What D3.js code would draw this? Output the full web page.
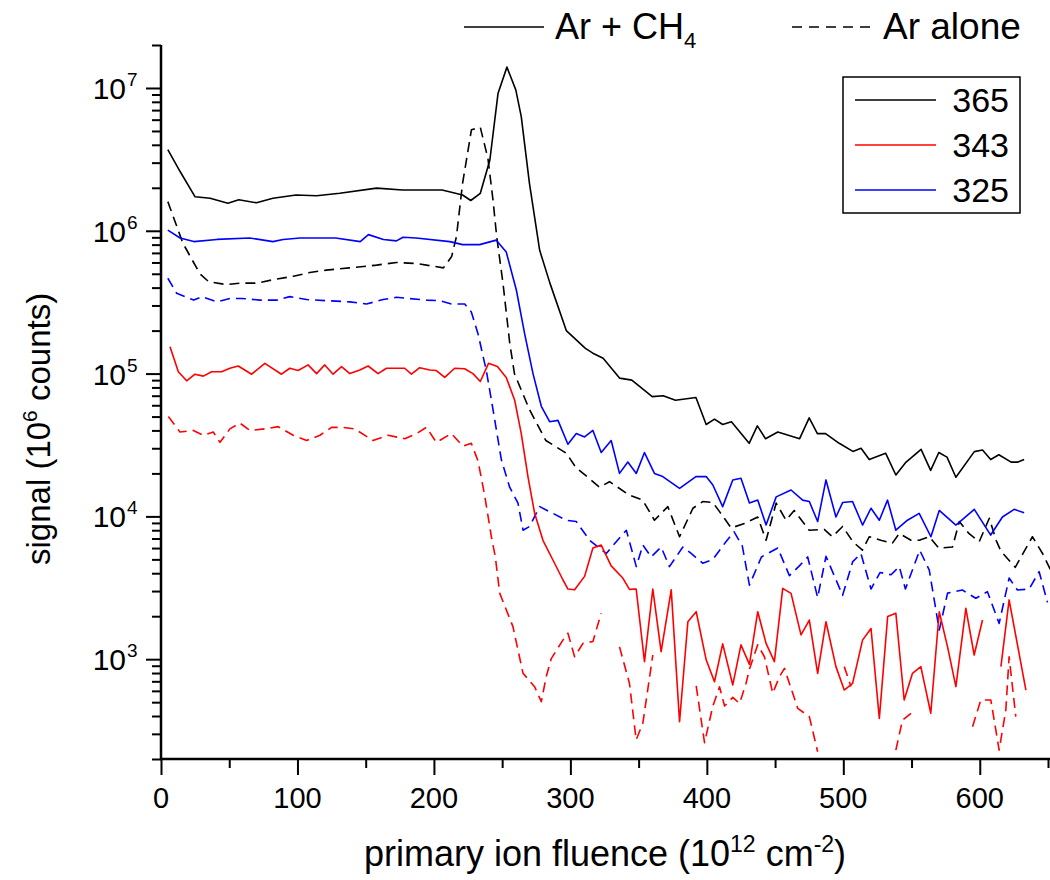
<!DOCTYPE html>
<html>
<head>
<meta charset="utf-8">
<script src="https://cdn.jsdelivr.net/npm/d3@7"></script>
<style>
  html, body { margin: 0; padding: 0; background: #fff; }
  svg { display: block; }
  text { font-family: "Liberation Sans", Arial, sans-serif; fill: #000; }
</style>
</head>
<body>
<svg id="chart" width="1050" height="880"></svg>
<script>
// ---------------- DATA ----------------
const xTicksMajor = [0, 100, 200, 300, 400, 500, 600];
const xTicksMinor = [50, 150, 250, 350, 450, 550, 650];
const yTicksMajor = [1e3, 1e4, 1e5, 1e6, 1e7];
const yTickExponents = ["3", "4", "5", "6", "7"];

const seriesNames = ["365", "343", "325"];
const seriesColors = ["#000000", "#ff0000", "#0000ff"];
const conditionNames = ["Ar + CH", "Ar alone"];

// [fluence (1e12 cm^-2), signal]; null = no value (gap)
const black365_ArCH4 = [
  [5,3.7e6],[14,2.6e6],[25,1.73e6],[36,1.69e6],[49,1.56e6],[57,1.65e6],[70,1.57e6],[82,1.69e6],
  [99,1.78e6],[114,1.76e6],[131,1.83e6],[158,1.99e6],[177,1.93e6],[206,1.93e6],[221,1.78e6],
  [227,1.63e6],[234,1.83e6],[241,3.13e6],[247,9.2e6],[253.5,1.4e7],[260,9.7e6],[264,6.3e6],
  [270,2.15e6],[277.5,7.3e5],[285,4.3e5],[297,2.0e5],[311,1.5e5],[316.5,1.39e5],[324,1.28e5],
  [336,9.3e4],[345,9.0e4],[360,6.9e4],[368,7.0e4],[377,6.5e4],[392,6.8e4],[399.5,4.4e4],
  [405.6,4.8e4],[411.6,4.4e4],[418,4.6e4],[431,3.25e4],[437,4.3e4],[443,3.5e4],[452,3.9e4],
  [468,3.5e4],[475,4.9e4],[481,3.8e4],[487,3.8e4],[497,3.25e4],[507,2.85e4],[513,3.0e4],
  [519,2.5e4],[531,2.77e4],[538.5,1.95e4],[546,2.4e4],[557,2.95e4],[564,2.1e4],[570,2.8e4],
  [576,2.6e4],[582.5,1.88e4],[596,2.84e4],[602,2.92e4],[608,2.5e4],[614,2.7e4],[623,2.4e4],
  [628,2.4e4],[632.5,2.5e4]
];
const black365_Ar = [
  [5,1.6e6],[16,8.2e5],[28.5,5.0e5],[35,4.4e5],[48,4.2e5],[58,4.3e5],[70,4.3e5],[85,4.6e5],
  [97,4.8e5],[109,5.1e5],[121,5.3e5],[138,5.5e5],[158,5.75e5],[172.5,6.0e5],[187,5.9e5],
  [207,5.5e5],[213,6.6e5],[216.5,9.1e5],[221,2.15e6],[227.5,5.1e6],[234,5.3e6],[239.6,3.2e6],
  [243.3,1.64e6],[246,9.1e5],[250.6,4.3e5],[255.5,1.65e5],[259,1.0e5],[270,5.6e4],[282,3.4e4],
  [297,2.77e4],[304,2.2e4],[311.6,1.92e4],[321.4,1.6e4],[328.7,1.75e4],[343,1.41e4],[353,1.3e4],
  [361.6,9.4e3],[371.4,1.17e4],[380,7.2e3],[389.8,1.14e4],[397,1.27e4],[404.4,1.25e4],
  [409.3,1.08e4],[417.8,8.3e3],[427.5,8.9e3],[437.3,9.9e3],[443.4,6.8e3],[450.8,1.24e4],
  [458,9.4e3],[464,1.1e4],[475,8.0e3],[486,8.1e3],[492,7.2e3],[499.5,8.5e3],[507,6.65e3],
  [514,5.8e3],[519,7.2e3],[527.5,6.8e3],[536,6.5e3],[541,7.6e3],[549.6,6.8e3],[555.7,6.8e3],
  [563,7.2e3],[570,6.0e3],[580,6.1e3],[585,9.2e3],[592,7.6e3],[599.6,6.65e3],[607,9.7e3],
  [612,6.8e3],[615.5,5.7e3],[626,4.4e3],[638.6,7.2e3],[646,5.5e3],[652,4.2e3]
];
const blue325_ArCH4 = [
  [5,1.01e6],[14,8.9e5],[24,8.4e5],[41,8.7e5],[65,8.9e5],[82,8.4e5],[89.5,8.7e5],[102,8.9e5],
  [128,8.9e5],[146,8.4e5],[152,9.4e5],[163,8.7e5],[172.5,8.5e5],[177.4,9.0e5],[187,8.9e5],
  [211.6,8.4e5],[221,8.0e5],[233.5,8.0e5],[245.7,8.6e5],[253,7.1e5],[260.4,3.85e5],[266.5,1.9e5],
  [272.6,1.0e5],[278.7,5.9e4],[284.8,4.6e4],[290.9,4.7e4],[298.2,3.2e4],[304.3,3.8e4],
  [310.4,3.6e4],[316.5,4.0e4],[322.6,2.8e4],[329.9,3.4e4],[336,2.0e4],[342.1,2.4e4],[348.3,2.0e4],
  [354.3,2.8e4],[361.6,2.0e4],[367.7,1.9e4],[380,1.57e4],[392,1.9e4],[399.5,1.9e4],[404.4,1.66e4],
  [411.6,1.17e4],[419,1.8e4],[425,1.85e4],[431.2,1.24e4],[437.3,1.3e4],[443.4,8.7e3],
  [450.8,1.37e4],[461.7,1.53e4],[470.2,1.3e4],[475.1,1.27e4],[481.2,9.2e3],[487.3,1.8e4],
  [494.6,9.9e3],[499.5,1.25e4],[506.8,1.27e4],[514.1,8.7e3],[520.3,1.14e4],[526.4,9.4e3],
  [532.4,1.3e4],[538.5,8.0e3],[547,9.4e3],[555.6,1.05e4],[564.2,7.2e3],[570.3,1.1e4],
  [582.5,8.7e3],[596,1.12e4],[608,7.4e3],[616.6,9.9e3],[625.2,1.12e4],[632.5,1.06e4]
];
const blue325_Ar = [
  [5,4.65e5],[11.5,3.65e5],[24,3.27e5],[30,3.46e5],[41,3.18e5],[50.5,3.36e5],[59,3.36e5],
  [72.5,3.27e5],[85,3.27e5],[94.4,3.46e5],[106.7,3.3e5],[121.3,3.24e5],[138.4,3.18e5],
  [150.6,3.07e5],[162.7,3.3e5],[172.5,3.42e5],[194.5,3.27e5],[204.3,3.24e5],[212.8,3.07e5],
  [222.6,3.07e5],[227.4,2.7e5],[232.3,1.9e5],[238.4,1.05e5],[243.3,5.6e4],[249.4,2.5e4],
  [255.5,1.6e4],[261.6,1.24e4],[265.3,8.0e3],[270.1,8.5e3],[277.5,1.17e4],[287.2,1.05e4],
  [297,9.4e3],[304.3,9.2e3],[314.1,6.8e3],[326.3,5.5e3],[333.6,6.65e3],[341,8.0e3],[348.3,4.45e3],
  [353.1,6.3e3],[359.2,5.2e3],[366.5,6.1e3],[372.6,4.45e3],[382.4,6.1e3],[388.5,5.5e3],
  [397,4.7e3],[404.4,5.0e3],[414,6.65e3],[420,7.8e3],[426,6.2e3],[431.2,3.3e3],[440,5.2e3],
  [452,6.0e3],[460.5,3.85e3],[467.8,4.5e3],[473.9,5.2e3],[481.2,2.7e3],[487.3,5.25e3],
  [499.5,2.8e3],[506.8,4.8e3],[512.9,5.5e3],[520.3,3.1e3],[527,4.05e3],[535,3.9e3],[541,4.45e3],
  [545.5,3.1e3],[556,5.8e3],[563,4.2e3],[570.3,1.6e3],[576.4,2.9e3],[587.3,3.05e3],
  [597.1,2.67e3],[605.6,2.97e3],[614.2,1.78e3],[621.5,3.7e3],[627.6,3.05e3],[636.2,3.1e3],
  [643.5,4.1e3],[649.6,2.5e3]
];
const red343_ArCH4 = [
  [6.6,1.54e5],[12.7,1.03e5],[18.8,8.9e4],[24.9,9.9e4],[31,9.6e4],[37.1,1.03e5],[44.4,1.03e5],
  [50.5,1.09e5],[56.6,1.13e5],[66.4,9.9e4],[76.1,1.18e5],[88.3,9.9e4],[94.4,1.09e5],
  [100.5,1.05e5],[107.8,1.15e5],[114,1.0e5],[120,1.15e5],[126.1,9.9e4],[132.3,1.12e5],
  [138.4,1.0e5],[145.7,1.06e5],[151.8,1.13e5],[159.1,1.0e5],[165.2,1.09e5],[172.5,1.09e5],
  [178.6,1.09e5],[183.5,9.9e4],[189.6,1.1e5],[197,1.06e5],[201.8,1.05e5],[207.9,9.4e4],
  [215.2,1.09e5],[222.5,1.08e5],[228.6,1.0e5],[234,8.8e4],[240,1.18e5],[246.5,1.12e5],
  [253,9.4e4],[259.2,6.5e4],[264,3.8e4],[268.9,1.9e4],[273.8,1.05e4],[279.9,6.8e3],
  [287.2,4.95e3],[294.5,3.6e3],[298.2,3.1e3],[303.1,3.06e3],[310.4,3.8e3],[316.5,6.0e3],
  [322.6,6.3e3],[329.9,4.5e3],[338.4,3.7e3],[343.3,3.08e3],[348.2,3.1e3],[354.3,962],
  [360.4,3.1e3],[366.5,1.13e3],[373.9,3.06e3],[380,365],[386.1,1.83e3],[392.2,2.15e3],
  [399.5,990],[405.6,695],[411.6,1.28e3],[419,660],[425,1.26e3],[431.2,920],[437.3,2.15e3],
  [443.4,1.29e3],[449.5,962],[455.6,3.13e3],[461.7,2.89e3],[469,1.48e3],[475.1,1.88e3],
  [481.2,796],[487.3,1.83e3],[494.6,887],[500.7,608],[506.8,677],[514.1,1.36e3],[520.3,1.64e3],
  [526.4,385],[532.5,1.99e3],[538.5,2.1e3],[544.6,518],[550.7,796],[556.8,887],[564.1,418],
  [570.3,2.15e3],[576.4,1.22e3],[582.5,643],[589.8,2.27e3],[595.9,1.07e3],[602,1.88e3],
  [608,null],[615.5,887],[621.5,2.6e3],[633.8,608]
];
const red343_Ar = [
  [5.4,5.0e4],[13.9,3.9e4],[23.7,4.0e4],[31,3.7e4],[38.3,3.9e4],[43.2,3.3e4],[50.5,4.1e4],
  [57.8,4.5e4],[65.2,4.0e4],[76.1,4.1e4],[85.9,4.25e4],[96.9,3.7e4],[106.7,3.4e4],[116.5,3.7e4],
  [125,4.2e4],[133.5,4.2e4],[142,4.1e4],[155.4,3.4e4],[166.4,3.7e4],[178.6,3.5e4],[187.2,3.8e4],
  [194.5,4.2e4],[201.8,3.3e4],[212.8,3.8e4],[221.3,3.1e4],[227.4,3.25e4],[232.3,2.45e4],
  [237.2,1.4e4],[242.1,7.2e3],[245,5.2e3],[248.2,2.9e3],[257.9,1.69e3],[265.3,796],[273.8,641],
  [278.7,504],[282.3,755],[286,1.01e3],[294.5,1.36e3],[298.2,1.52e3],[303.1,1.04e3],
  [309.2,1.29e3],[316.5,1.33e3],[322.6,2.1e3],[329,null],[336,1.22e3],[343.3,677],[348.2,272],
  [353.1,356],[360.4,1.07e3],[376,null],[392.2,650],[398.3,260],[404.4,470],[409.3,640],
  [413,470],[419,540],[424,490],[428.7,677],[431.2,850],[437.3,1.26e3],[442.2,1.04e3],
  [448.3,577],[453.2,753],[456.9,863],[460.5,677],[466.6,453],[475.1,396],[481.2,225],
  [490,null],[500.7,887],[505.6,643],[520,null],[538.5,231],[543.4,375],[549.6,418],[570,null],
  [594.7,337],[600.8,518],[608.1,518],[614.2,231],[619.1,441],[621.5,1.04e3],[626.4,396]
];

const series = [
  { data: black365_ArCH4, color: seriesColors[0], dashed: false },
  { data: black365_Ar,    color: seriesColors[0], dashed: true },
  { data: blue325_ArCH4,  color: seriesColors[2], dashed: false },
  { data: blue325_Ar,     color: seriesColors[2], dashed: true },
  { data: red343_ArCH4,   color: seriesColors[1], dashed: false },
  { data: red343_Ar,      color: seriesColors[1], dashed: true }
];

// ---------------- LAYOUT ----------------
const svg = d3.select("#chart");
const pLeft = 161, pRight = 1048, pTop = 45, pBottom = 759;
const x = d3.scaleLinear().domain([0, 650]).range([pLeft, pRight]);
const y = d3.scaleLog().domain([200, 2e7]).range([pBottom, pTop]);
const DASH = "10,6";

// clip
svg.append("defs").append("clipPath").attr("id", "plotclip")
  .append("rect").attr("x", pLeft).attr("y", pTop - 2).attr("width", 1050 - pLeft).attr("height", pBottom - pTop + 2);

// lines
const line = d3.line()
  .defined(d => d[1] != null)
  .x(d => x(d[0])).y(d => y(d[1]));

const g = svg.append("g").attr("clip-path", "url(#plotclip)");
series.forEach(s => {
  g.append("path").datum(s.data)
    .attr("d", line)
    .attr("fill", "none")
    .attr("stroke", s.color)
    .attr("stroke-width", 1.6)
    .attr("stroke-linejoin", "round")
    .attr("stroke-dasharray", s.dashed ? DASH : null);
});

// ---------------- AXES ----------------
const yMinor = [];
for (let e = 2; e <= 7; e++) for (let m = 1; m <= 9; m++) {
  const v = m * Math.pow(10, e);
  if (m !== 1 && v >= 200 && v <= 2e7) yMinor.push(v);
}

const axisStroke = 2.5;
function styleAxis(sel) {
  sel.select(".domain").remove();
  sel.selectAll(".tick line").attr("stroke", "#000").attr("stroke-width", 2);
  sel.selectAll(".tick text").remove();
}
svg.append("g").attr("transform", `translate(${pLeft},0)`)
  .call(d3.axisLeft(y).tickValues(yMinor).tickSize(9).tickFormat(""))
  .call(styleAxis);
svg.append("g").attr("transform", `translate(${pLeft},0)`)
  .call(d3.axisLeft(y).tickValues(yTicksMajor).tickSize(15).tickFormat(""))
  .call(styleAxis);
svg.append("g").attr("transform", `translate(0,${pBottom})`)
  .call(d3.axisBottom(x).tickValues(xTicksMinor).tickSize(9).tickFormat(""))
  .call(styleAxis);
svg.append("g").attr("transform", `translate(0,${pBottom})`)
  .call(d3.axisBottom(x).tickValues(xTicksMajor).tickSize(16).tickFormat(""))
  .call(styleAxis);

// axis lines
svg.append("line").attr("x1", pLeft).attr("x2", pLeft).attr("y1", pTop).attr("y2", pBottom + 1)
  .attr("stroke", "#000").attr("stroke-width", axisStroke);
svg.append("line").attr("x1", pLeft - 1).attr("x2", 1050).attr("y1", pBottom).attr("y2", pBottom)
  .attr("stroke", "#000").attr("stroke-width", axisStroke);

// x tick labels
svg.append("g").selectAll("text").data(xTicksMajor).join("text")
  .attr("x", d => x(d)).attr("y", 808)
  .attr("text-anchor", "middle").attr("font-size", 29)
  .text(d => d);

// y tick labels 10^n
yTicksMajor.forEach((v, i) => {
  svg.append("text").attr("x", 126).attr("y", y(v) + 11)
    .attr("text-anchor", "end").attr("font-size", 30).text("10");
  svg.append("text").attr("x", 127).attr("y", y(v) - 2)
    .attr("font-size", 19).text(yTickExponents[i]);
});

// axis titles
const xt = svg.append("text").attr("x", 605).attr("y", 866)
  .attr("text-anchor", "middle").attr("font-size", 36);
xt.append("tspan").text("primary ion fluence (10");
xt.append("tspan").attr("dy", -14).attr("font-size", 23).text("12");
xt.append("tspan").attr("dy", 14).text(" cm");
xt.append("tspan").attr("dy", -14).attr("font-size", 23).text("-2");
xt.append("tspan").attr("dy", 14).text(")");

const yt = svg.append("text").attr("transform", "translate(50,565) rotate(-90)")
  .attr("text-anchor", "start").attr("font-size", 33);
yt.append("tspan").text("signal (10");
yt.append("tspan").attr("dy", -13).attr("font-size", 21).text("6");
yt.append("tspan").attr("dy", 13).text(" counts)");

// ---------------- TOP LEGEND (conditions) ----------------
svg.append("line").attr("x1", 464).attr("x2", 544).attr("y1", 27).attr("y2", 27)
  .attr("stroke", "#000").attr("stroke-width", 1.6);
const l1 = svg.append("text").attr("x", 555).attr("y", 39).attr("font-size", 36);
l1.append("tspan").text(conditionNames[0]);
l1.append("tspan").attr("dy", 9).attr("font-size", 22).text("4");
svg.append("line").attr("x1", 792).attr("x2", 872).attr("y1", 27).attr("y2", 27)
  .attr("stroke", "#000").attr("stroke-width", 1.6).attr("stroke-dasharray", "10,7");
svg.append("text").attr("x", 883).attr("y", 39).attr("font-size", 37).text(conditionNames[1]);

// ---------------- RIGHT LEGEND (wavelengths) ----------------
svg.append("rect").attr("x", 843).attr("y", 77).attr("width", 177).attr("height", 136)
  .attr("fill", "#fff").attr("stroke", "#000").attr("stroke-width", 1.5);
seriesNames.forEach((n, i) => {
  const ly = 100 + i * 45;
  svg.append("line").attr("x1", 855).attr("x2", 936).attr("y1", ly).attr("y2", ly)
    .attr("stroke", seriesColors[i]).attr("stroke-width", 1.6);
  svg.append("text").attr("x", 1009).attr("y", ly + 12).attr("text-anchor", "end")
    .attr("font-size", 34).text(n);
});
</script>
</body>
</html>
